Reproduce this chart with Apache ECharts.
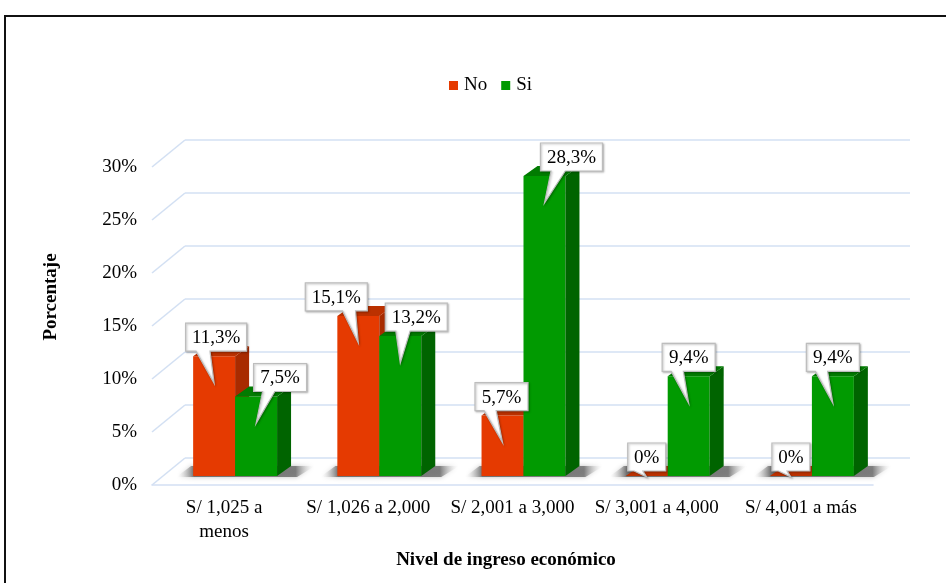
<!DOCTYPE html>
<html>
<head>
<meta charset="utf-8">
<script src="https://cdn.jsdelivr.net/npm/echarts@6/dist/echarts.min.js"></script>
<style>
  html, body { margin: 0; padding: 0; background: #ffffff; }
  #chart { width: 946px; height: 583px; }
</style>
</head>
<body>
<div id="chart"></div>
<script>
// Income brackets and the share of answers (No / Si) in each one, in percent
const categories = ['S/ 1,025 a\nmenos', 'S/ 1,026 a 2,000', 'S/ 2,001 a 3,000', 'S/ 3,001 a 4,000', 'S/ 4,001 a más'];
const seriesNames = ['No', 'Si'];
const noValues = [11.3, 15.1, 5.7, 0, 0];
const siValues = [7.5, 13.2, 28.3, 9.4, 9.4];
const yTickValues = [0, 5, 10, 15, 20, 25, 30];

// horizontal nudges of the value callouts, in px (layout only)
const calloutShift = [
  [2, -22, -1, 0, 0],
  [24, 16, 27, 0, 0]
];

const SERIF = 'Liberation Serif';
const DX = 14, DY = -10;          // bar depth
const WALL_DX = 33, WALL_DY = -27; // floor depth, front edge to back wall
const GRID_BLUE = '#d3e0f3';
const faces = [
  { front: '#e53a01', side: '#a82b00', top: '#bb3100' },
  { front: '#019a01', side: '#006400', top: '#017b01' }
];

function pct(v) { return v === 0 ? '0%' : v.toFixed(1).replace('.', ',') + '%'; }

const measureCtx = document.createElement('canvas').getContext('2d');
measureCtx.font = '19px "' + SERIF + '"';
function textWidth(t) { return measureCtx.measureText(t).width; }

const valueSets = [noValues, siValues];
const BAR_FRAC = 0.291;

function barRenderer(s) {
  return function (params, api) {
    const ci = api.value(0), v = api.value(1);
    const top = api.coord([ci, v]);
    const base = api.coord([ci, 0]);
    const bw = api.size([1, 0])[0] * BAR_FRAC;
    const x0 = top[0] - (s === 0 ? bw : 0);
    const x1 = x0 + bw;
    const yT = top[1], yB = base[1];
    const c = faces[s];
    return {
      type: 'group',
      children: [
        { type: 'rect', shape: { x: x0, y: yT, width: bw, height: yB - yT }, style: { fill: c.front } },
        { type: 'polygon', shape: { points: [[x1, yT], [x1 + DX, yT + DY], [x1 + DX, yB + DY], [x1, yB]] }, style: { fill: c.side } },
        { type: 'polygon', shape: { points: [[x0, yT], [x0 + DX, yT + DY], [x1 + DX, yT + DY], [x1, yT]] }, style: { fill: c.top } }
      ]
    };
  };
}

function shadowRenderer(params, api) {
  const ci = api.value(0);
  const base = api.coord([ci, 0]);
  const bw = api.size([1, 0])[0] * BAR_FRAC;
  const x0 = base[0] - bw, x1 = base[0] + bw, yB = base[1];
  return {
    type: 'polygon',
    shape: { points: [[x0 - 17, yB + 1], [x0 + DX - 16, yB + DY], [x1 + DX + 24, yB + DY], [x1 + 20, yB + 1]] },
    style: {
      fill: new echarts.graphic.LinearGradient(0, 0, 1, 0, [
        { offset: 0, color: 'rgba(255,255,255,0)' },
        { offset: 0.13, color: 'rgba(95,95,95,0.85)' },
        { offset: 0.86, color: 'rgba(105,105,105,0.8)' },
        { offset: 1, color: 'rgba(255,255,255,0)' }
      ]),
      shadowBlur: 5,
      shadowColor: 'rgba(0,0,0,0.3)'
    }
  };
}

function calloutRenderer(params, api) {
  const ci = api.value(0), v = api.value(1), s = api.value(2);
  const top = api.coord([ci, v]);
  const base = api.coord([ci, 0]);
  const bw = api.size([1, 0])[0] * BAR_FRAC;
  const cx = top[0] + (s === 0 ? -bw / 2 : bw / 2);
  const text = pct(v);
  const w = Math.round(textWidth(text) + 13), h = 28;
  const bx0 = cx + calloutShift[s][ci] - w / 2, bx1 = bx0 + w;
  const by1 = top[1] - 5, by0 = by1 - h;
  const tipX = cx, tipY = Math.min(top[1] + 27, base[1] + 1);
  const rel = (tipX - bx0) / w;
  const wb1 = rel > 0.55 ? bx0 + 0.6 * w : bx0 + 0.17 * w;
  const wb2 = rel > 0.55 ? bx0 + 0.81 * w : bx0 + 0.4 * w;
  return {
    type: 'group',
    children: [
      {
        type: 'polygon',
        shape: { points: [[bx0, by0], [bx1, by0], [bx1, by1], [wb2, by1], [tipX, tipY], [wb1, by1], [bx0, by1]] },
        style: { fill: '#ffffff', stroke: '#bdbdbd', lineWidth: 1.2, shadowBlur: 2, shadowOffsetX: 1, shadowOffsetY: 1, shadowColor: 'rgba(0,0,0,0.25)' }
      },
      {
        type: 'text',
        style: { text: text, x: (bx0 + bx1) / 2, y: (by0 + by1) / 2 + 1, align: 'center', verticalAlign: 'middle', fontFamily: SERIF, fontSize: 19, fill: '#000000' }
      }
    ]
  };
}

function wallEdgeRenderer(params, api) {
  const back = api.coord([0, api.value(0)]);
  return {
    type: 'line',
    shape: { x1: back[0] - WALL_DX, y1: back[1] - WALL_DY, x2: back[0], y2: back[1] },
    style: { stroke: GRID_BLUE, lineWidth: 1.6 }
  };
}

const calloutData = [];
valueSets.forEach((vals, s) => vals.forEach((v, i) => calloutData.push([i, v, s])));

const chart = echarts.init(document.getElementById('chart'), null, { renderer: 'canvas' });
chart.setOption({
  animation: false,
  backgroundColor: '#ffffff',
  textStyle: { fontFamily: SERIF },
  legend: {
    data: seriesNames,
    left: 449,
    top: 76,
    padding: 0,
    itemWidth: 9,
    itemHeight: 9,
    itemGap: 14,
    icon: 'rect',
    textStyle: { fontFamily: SERIF, fontSize: 19, color: '#000000', padding: [2, 0, 0, 1] }
  },
  grid: [
    { left: 152, top: 167, width: 721, height: 318 },   // front edge of the floor
    { left: 163, top: 158, width: 721, height: 318 },   // plane of the bars
    { left: 185, top: 140, width: 725, height: 318 }    // back wall
  ],
  xAxis: [
    {
      gridIndex: 0, type: 'category', data: categories,
      axisLine: { lineStyle: { color: GRID_BLUE, width: 1.6 } },
      axisTick: { show: false },
      axisLabel: { fontFamily: SERIF, fontSize: 19, color: '#000000', margin: 11, lineHeight: 24, interval: 0 }
    },
    { gridIndex: 1, type: 'category', data: categories, show: false },
    { gridIndex: 2, type: 'value', min: 0, max: 1, show: false }
  ],
  yAxis: [
    {
      gridIndex: 0, type: 'value', min: 0, max: 30, interval: 5,
      axisLine: { show: false }, axisTick: { show: false }, splitLine: { show: false },
      axisLabel: { fontFamily: SERIF, fontSize: 19, color: '#000000', margin: 15, formatter: '{value}%' }
    },
    { gridIndex: 1, type: 'value', min: 0, max: 30, interval: 5, show: false },
    {
      gridIndex: 2, type: 'value', min: 0, max: 30, interval: 5,
      axisLine: { show: false }, axisTick: { show: false }, axisLabel: { show: false },
      splitLine: { lineStyle: { color: GRID_BLUE, width: 1.6 } }
    }
  ],
  series: [
    {
      type: 'custom', name: 'wall', xAxisIndex: 2, yAxisIndex: 2, z: 1,
      data: yTickValues.map(v => [v]), encode: { y: 0 },
      renderItem: wallEdgeRenderer, silent: true
    },
    {
      type: 'custom', name: 'floorShadow', xAxisIndex: 1, yAxisIndex: 1, z: 2,
      data: categories.map((c, i) => [i, 0]),
      renderItem: shadowRenderer, silent: true
    },
    {
      type: 'custom', name: seriesNames[0], xAxisIndex: 1, yAxisIndex: 1, z: 3,
      itemStyle: { color: faces[0].front },
      data: noValues.map((v, i) => [i, v]),
      renderItem: barRenderer(0)
    },
    {
      type: 'custom', name: seriesNames[1], xAxisIndex: 1, yAxisIndex: 1, z: 4,
      itemStyle: { color: faces[1].front },
      data: siValues.map((v, i) => [i, v]),
      renderItem: barRenderer(1)
    },
    {
      type: 'custom', name: 'callouts', xAxisIndex: 1, yAxisIndex: 1, z: 10,
      data: calloutData,
      renderItem: calloutRenderer, silent: true
    }
  ],
  graphic: [
    {
      type: 'rect', z: 100, silent: true,
      shape: { x: 5, y: 16, width: 960, height: 620 },
      style: { fill: 'none', stroke: '#111111', lineWidth: 2 }
    },
    {
      type: 'text', x: 51, y: 297, rotation: Math.PI / 2,
      style: { text: 'Porcentaje', fontFamily: SERIF, fontWeight: 'bold', fontSize: 19, fill: '#000000', align: 'center', verticalAlign: 'middle' }
    },
    {
      type: 'text', x: 506, y: 560,
      style: { text: 'Nivel de ingreso económico', fontFamily: SERIF, fontWeight: 'bold', fontSize: 19, fill: '#000000', align: 'center', verticalAlign: 'middle' }
    }
  ]
});
</script>
</body>
</html>
